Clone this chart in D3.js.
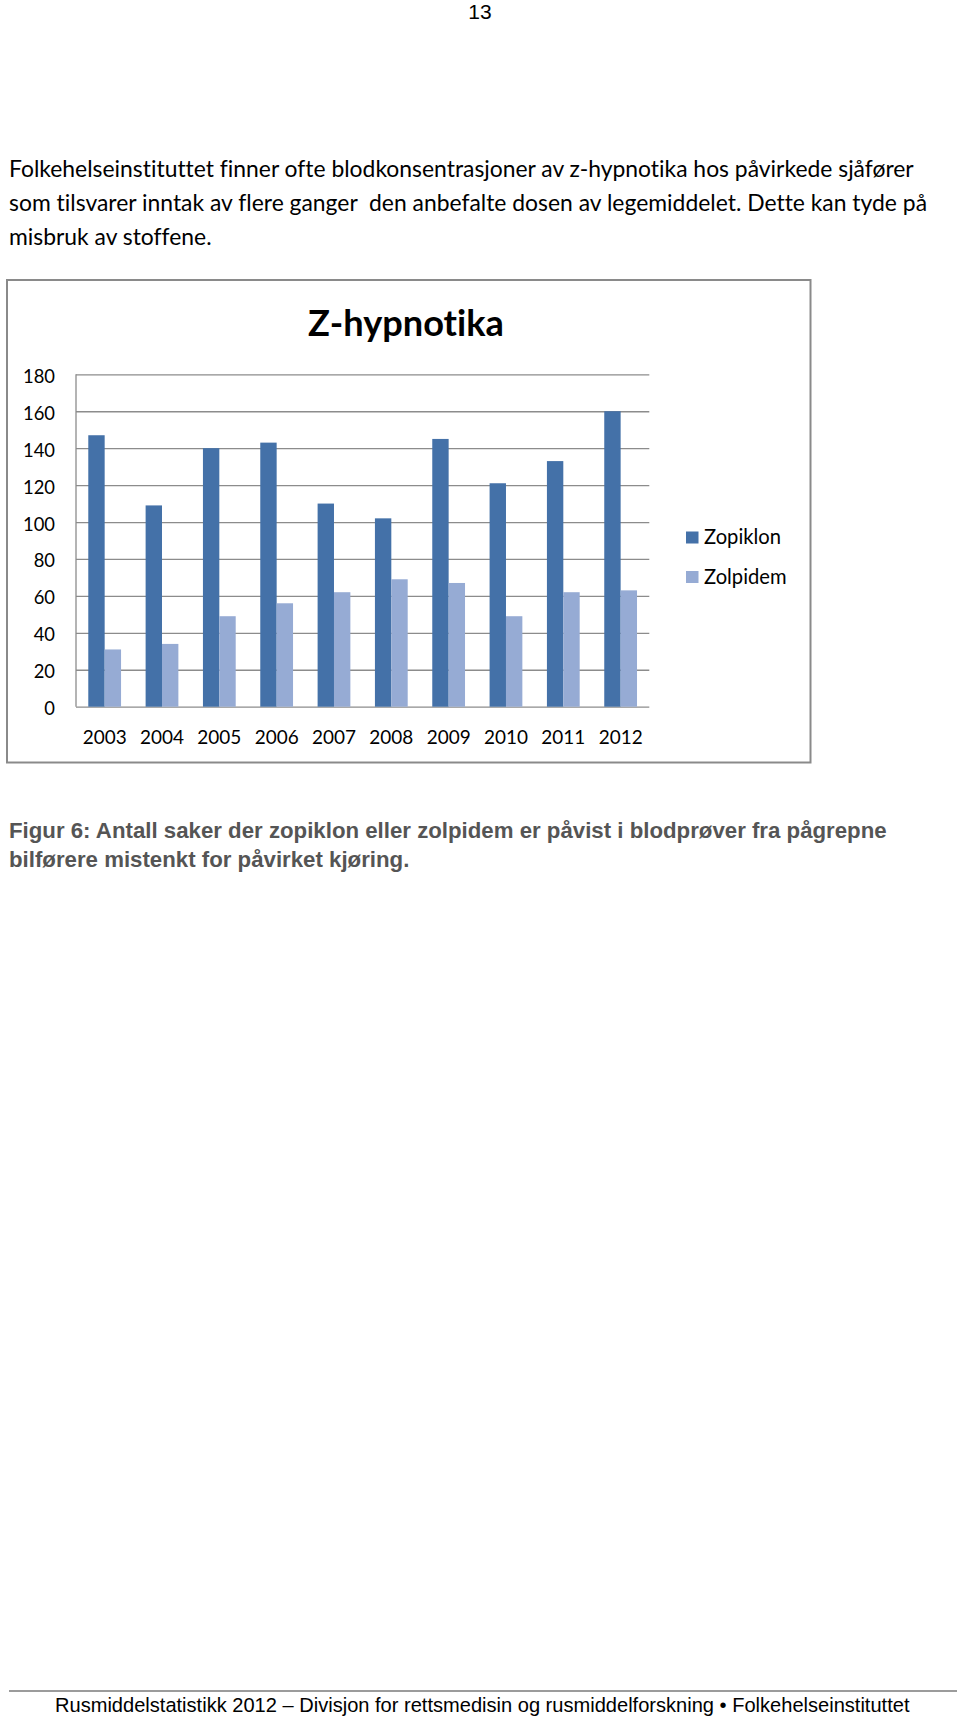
<!DOCTYPE html>
<html><head><meta charset="utf-8">
<script src="https://cdn.jsdelivr.net/npm/d3@7"></script>
<style>
html,body{margin:0;padding:0;background:#fff;}
svg{display:block;}
text{font-variant-ligatures:none;font-feature-settings:"liga" 0,"clig" 0;}
</style></head>
<body>
<script>
const years = ["2003","2004","2005","2006","2007","2008","2009","2010","2011","2012"];
const seriesNames = ["Zopiklon","Zolpidem"];
const zopiklon = [147,109,140,143,110,102,145,121,133,160];
const zolpidem = [31,34,49,56,62,69,67,49,62,63];
const yTicks = [0,20,40,60,80,100,120,140,160,180];
const colors = ["#4471A8","#96ABD4"];

const W = 960, H = 1719;
const svg = d3.select("body").append("svg").attr("width", W).attr("height", H);

const BODY = "Lato, 'Open Sans', sans-serif";
const ARIAL = "'Liberation Sans', Arial, sans-serif";

function fitText(sel, target) {
  sel.attr("font-size", 100);
  const w = sel.node().getComputedTextLength();
  sel.attr("font-size", 100 * target / w);
  return 100 * target / w;
}

// page number
svg.append("text").attr("x", 480).attr("y", 19).attr("text-anchor", "middle")
  .attr("font-family", ARIAL).attr("font-size", 21).attr("fill", "#000").text("13");

// intro paragraph
const para = [
  "Folkehelseinstituttet finner ofte blodkonsentrasjoner av z-hypnotika hos påvirkede sjåfører",
  "som tilsvarer inntak av flere ganger\u00a0 den anbefalte dosen av legemiddelet. Dette kan tyde på",
  "misbruk av stoffene."
];
const paraBase = [177, 211, 245];
const t0 = svg.append("text").attr("x", 9).attr("y", paraBase[0])
  .attr("font-family", BODY).attr("fill", "#000").text(para[0]);
const pSize = fitText(t0, 905);
svg.append("text").attr("x", 9).attr("y", paraBase[1]).attr("font-family", BODY)
  .attr("font-size", pSize).attr("fill", "#000").attr("textLength", 918)
  .attr("lengthAdjust", "spacing").text(para[1]);
svg.append("text").attr("x", 9).attr("y", paraBase[2]).attr("font-family", BODY)
  .attr("font-size", pSize).attr("fill", "#000").text(para[2]);

// chart frame
svg.append("rect").attr("x", 7).attr("y", 280).attr("width", 803.5).attr("height", 482.5)
  .attr("fill", "#fff").attr("stroke", "#8a8a8a").attr("stroke-width", 2);

// title
const title = svg.append("text").attr("x", 308).attr("y", 336)
  .attr("font-family", BODY).attr("font-weight", "bold").attr("fill", "#000").text("Z-hypnotika");
fitText(title, 196);

// scales
const plot = {left: 76, right: 649.3, top: 374.3, bottom: 706.7};
const y = d3.scaleLinear().domain([0, 180]).range([plot.bottom, plot.top]);
const x0 = d3.scaleBand().domain(years).range([plot.left, plot.right]).paddingInner(0).paddingOuter(0);
const barW = x0.bandwidth() / 3.5;
const x1 = d3.scaleBand().domain(seriesNames)
  .range([x0.bandwidth() / 2 - barW, x0.bandwidth() / 2 + barW]).padding(0);

// gridlines via axis
const gridG = svg.append("g").attr("transform", `translate(${plot.left},0)`)
  .call(d3.axisLeft(y).tickValues(yTicks).tickSize(-(plot.right - plot.left)).tickFormat(""));
gridG.select(".domain").remove();
gridG.selectAll(".tick line").attr("stroke", "#8c8c8c").attr("stroke-width", 1.3);

// vertical axis line
svg.append("line").attr("x1", plot.left).attr("x2", plot.left)
  .attr("y1", plot.top).attr("y2", plot.bottom).attr("stroke", "#8c8c8c").attr("stroke-width", 1.3);

// y tick labels
const yLab = svg.append("g").attr("transform", `translate(${plot.left},0)`)
  .call(d3.axisLeft(y).tickValues(yTicks).tickSize(0).tickPadding(0));
yLab.select(".domain").remove();
yLab.selectAll(".tick line").remove();
const probe = svg.append("text").attr("font-family", BODY).text("180");
const tickSize = fitText(probe, 32);
probe.remove();
yLab.selectAll(".tick text").attr("x", 55 - plot.left).attr("dy", null).attr("y", 8)
  .attr("text-anchor", "end").attr("font-family", BODY).attr("font-size", tickSize).attr("fill", "#000");

// bars
const data = years.map((yr, i) => ({year: yr, vals: [zopiklon[i], zolpidem[i]]}));
const groups = svg.append("g").selectAll("g").data(data).join("g")
  .attr("transform", d => `translate(${x0(d.year)},0)`);
groups.selectAll("rect").data(d => d.vals.map((v, j) => ({name: seriesNames[j], v, j})))
  .join("rect")
  .attr("x", d => x1(d.name))
  .attr("width", x1.bandwidth())
  .attr("y", d => y(d.v))
  .attr("height", d => y(0) - y(d.v))
  .attr("fill", d => colors[d.j]);

// x axis labels
const xAx = svg.append("g").attr("transform", `translate(0,${plot.bottom})`)
  .call(d3.axisBottom(x0).tickSize(0).tickPadding(0));
xAx.select(".domain").remove();
const probe2 = svg.append("text").attr("font-family", BODY).text("2003");
const xSize = fitText(probe2, 44);
probe2.remove();
xAx.selectAll(".tick text").attr("dy", null).attr("y", 37).attr("font-family", BODY)
  .attr("font-size", xSize).attr("fill", "#000");

// legend
const legY = [544, 583.5];
const probe3 = svg.append("text").attr("font-family", BODY).text("Zopiklon");
const legSize = fitText(probe3, 77);
probe3.remove();
const leg = svg.append("g").selectAll("g").data(seriesNames).join("g");
leg.append("rect").attr("x", 686).attr("y", (d, i) => legY[i] - 12.5)
  .attr("width", 12.5).attr("height", 12).attr("fill", (d, i) => colors[i]);
leg.append("text").attr("x", 704).attr("y", (d, i) => legY[i])
  .attr("font-family", BODY).attr("font-size", legSize).attr("fill", "#000").text(d => d);

// caption
const cap1 = svg.append("text").attr("x", 9).attr("y", 838)
  .attr("font-family", ARIAL).attr("font-weight", "bold").attr("fill", "#555")
  .text("Figur 6: Antall saker der zopiklon eller zolpidem er påvist i blodprøver fra pågrepne");
const capSize = fitText(cap1, 878);
svg.append("text").attr("x", 9).attr("y", 867)
  .attr("font-family", ARIAL).attr("font-weight", "bold").attr("fill", "#555")
  .attr("font-size", capSize).text("bilførere mistenkt for påvirket kjøring.");

// footer
svg.append("line").attr("x1", 9).attr("x2", 957).attr("y1", 1691).attr("y2", 1691)
  .attr("stroke", "#7a7a7a").attr("stroke-width", 1.5);
const foot = svg.append("text").attr("x", 55).attr("y", 1712)
  .attr("font-family", ARIAL).attr("fill", "#000")
  .text("Rusmiddelstatistikk 2012 \u2013 Divisjon for rettsmedisin og rusmiddelforskning \u2022 Folkehelseinstituttet");
fitText(foot, 855);
</script>
</body></html>
